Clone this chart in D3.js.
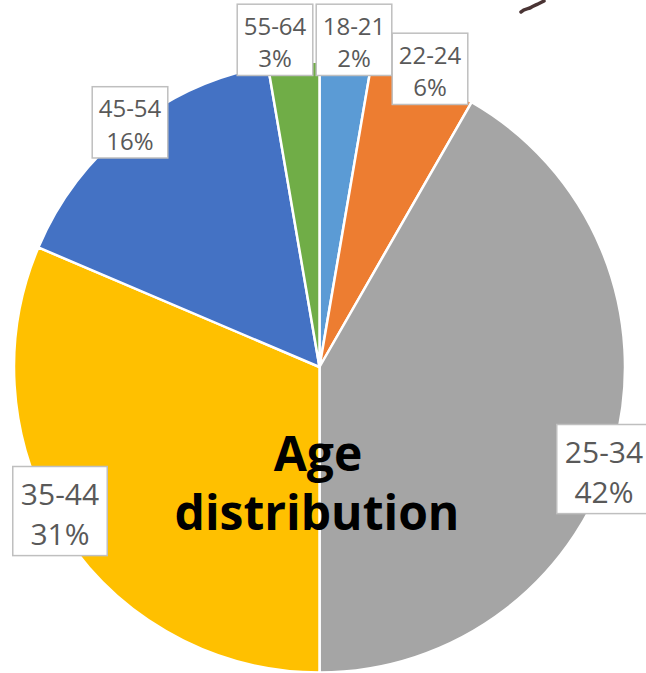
<!DOCTYPE html>
<html>
<head>
<meta charset="utf-8">
<script src="https://cdn.jsdelivr.net/npm/d3@7"></script>
<style>
  html, body { margin: 0; padding: 0; background: #ffffff; }
  svg { display: block; }
</style>
</head>
<body>
<div id="chart"></div>
<script>
// ---- data ----
const categories = ["18-21", "22-24", "25-34", "35-44", "45-54", "55-64"];
const values = [2.7, 5.6, 41.7, 31.4, 15.9, 2.7];
const pctLabels = ["2%", "6%", "42%", "31%", "16%", "3%"];
const colors = ["#5B9BD5", "#ED7D31", "#A5A5A5", "#FFC000", "#4472C4", "#70AD47"];
const title = ["Age", "distribution"];

// ---- layout (label anchor offsets from pie centre, font sizes) ----
const labelOffsets = [[34.5, -316], [110.5, -287], [284.5, 116], [-259.5, 158], [-189.5, -233.5], [-44.5, -316]];
const labelFont = [24, 24, 30, 30, 24, 24];

const W = 646, H = 673;
const cx = 319.5, cy = 367, R = 305.5;

const svg = d3.select("#chart").append("svg")
  .attr("width", W).attr("height", H)
  .attr("viewBox", `0 0 ${W} ${H}`);

const pie = d3.pie().sort(null).value(d => d.value);
const arc = d3.arc().innerRadius(0).outerRadius(R);

const data = categories.map((c, i) => ({ cat: c, value: values[i], pct: pctLabels[i], color: colors[i], i }));

const g = svg.append("g").attr("transform", `translate(${cx},${cy})`);

g.selectAll("path.slice")
  .data(pie(data))
  .join("path")
  .attr("class", "slice")
  .attr("d", arc)
  .attr("fill", d => d.data.color)
  .attr("stroke", "#ffffff")
  .attr("stroke-width", 2.5)
  .attr("stroke-linejoin", "round");

// title in middle
const tg = svg.append("g");
tg.append("text")
  .attr("x", 318).attr("y", 471)
  .attr("text-anchor", "middle")
  .attr("font-family", "'Open Sans', sans-serif")
  .attr("font-weight", 700)
  .attr("font-size", 48)
  .attr("fill", "#000")
  .text(title[0]);
tg.append("text")
  .attr("x", 317).attr("y", 530)
  .attr("text-anchor", "middle")
  .attr("font-family", "'Open Sans', sans-serif")
  .attr("font-weight", 700)
  .attr("font-size", 48)
  .attr("fill", "#000")
  .text(title[1]);

// data labels with boxes
const lg = svg.append("g");
data.forEach((d, i) => {
  const fs = labelFont[i];
  const mx = cx + labelOffsets[i][0];
  const my = cy + labelOffsets[i][1];
  const grp = lg.append("g");
  const rect = grp.append("rect");
  const t1 = grp.append("text")
    .attr("x", mx).attr("y", my - 0.68 * fs)
    .attr("text-anchor", "middle")
    .attr("font-family", "'Open Sans', sans-serif")
    .attr("font-size", fs)
    .attr("fill", "#595959")
    .text(d.cat);
  const t2 = grp.append("text")
    .attr("x", mx).attr("y", my + 0.68 * fs)
    .attr("text-anchor", "middle")
    .attr("font-family", "'Open Sans', sans-serif")
    .attr("font-size", fs)
    .attr("fill", "#595959")
    .text(d.pct);
  const w = Math.max(t1.node().getComputedTextLength(), t2.node().getComputedTextLength()) + 2 * 0.27 * fs;
  rect.attr("x", mx - w / 2)
    .attr("y", my - 1.95 * fs)
    .attr("width", w)
    .attr("height", 2.97 * fs)
    .attr("fill", "#ffffff")
    .attr("stroke", "#bfbfbf")
    .attr("stroke-width", 1.5);
});

// small stray mark in the top-right corner of the source image
svg.append("path")
  .attr("d", "M521,12 C524,9 527,9 530,8 C533,6 536,5 538,4 C540,3 542,2 544,1")
  .attr("fill", "none")
  .attr("stroke", "#4a3434")
  .attr("stroke-width", 3.5)
  .attr("stroke-linecap", "round");
</script>
</body>
</html>
